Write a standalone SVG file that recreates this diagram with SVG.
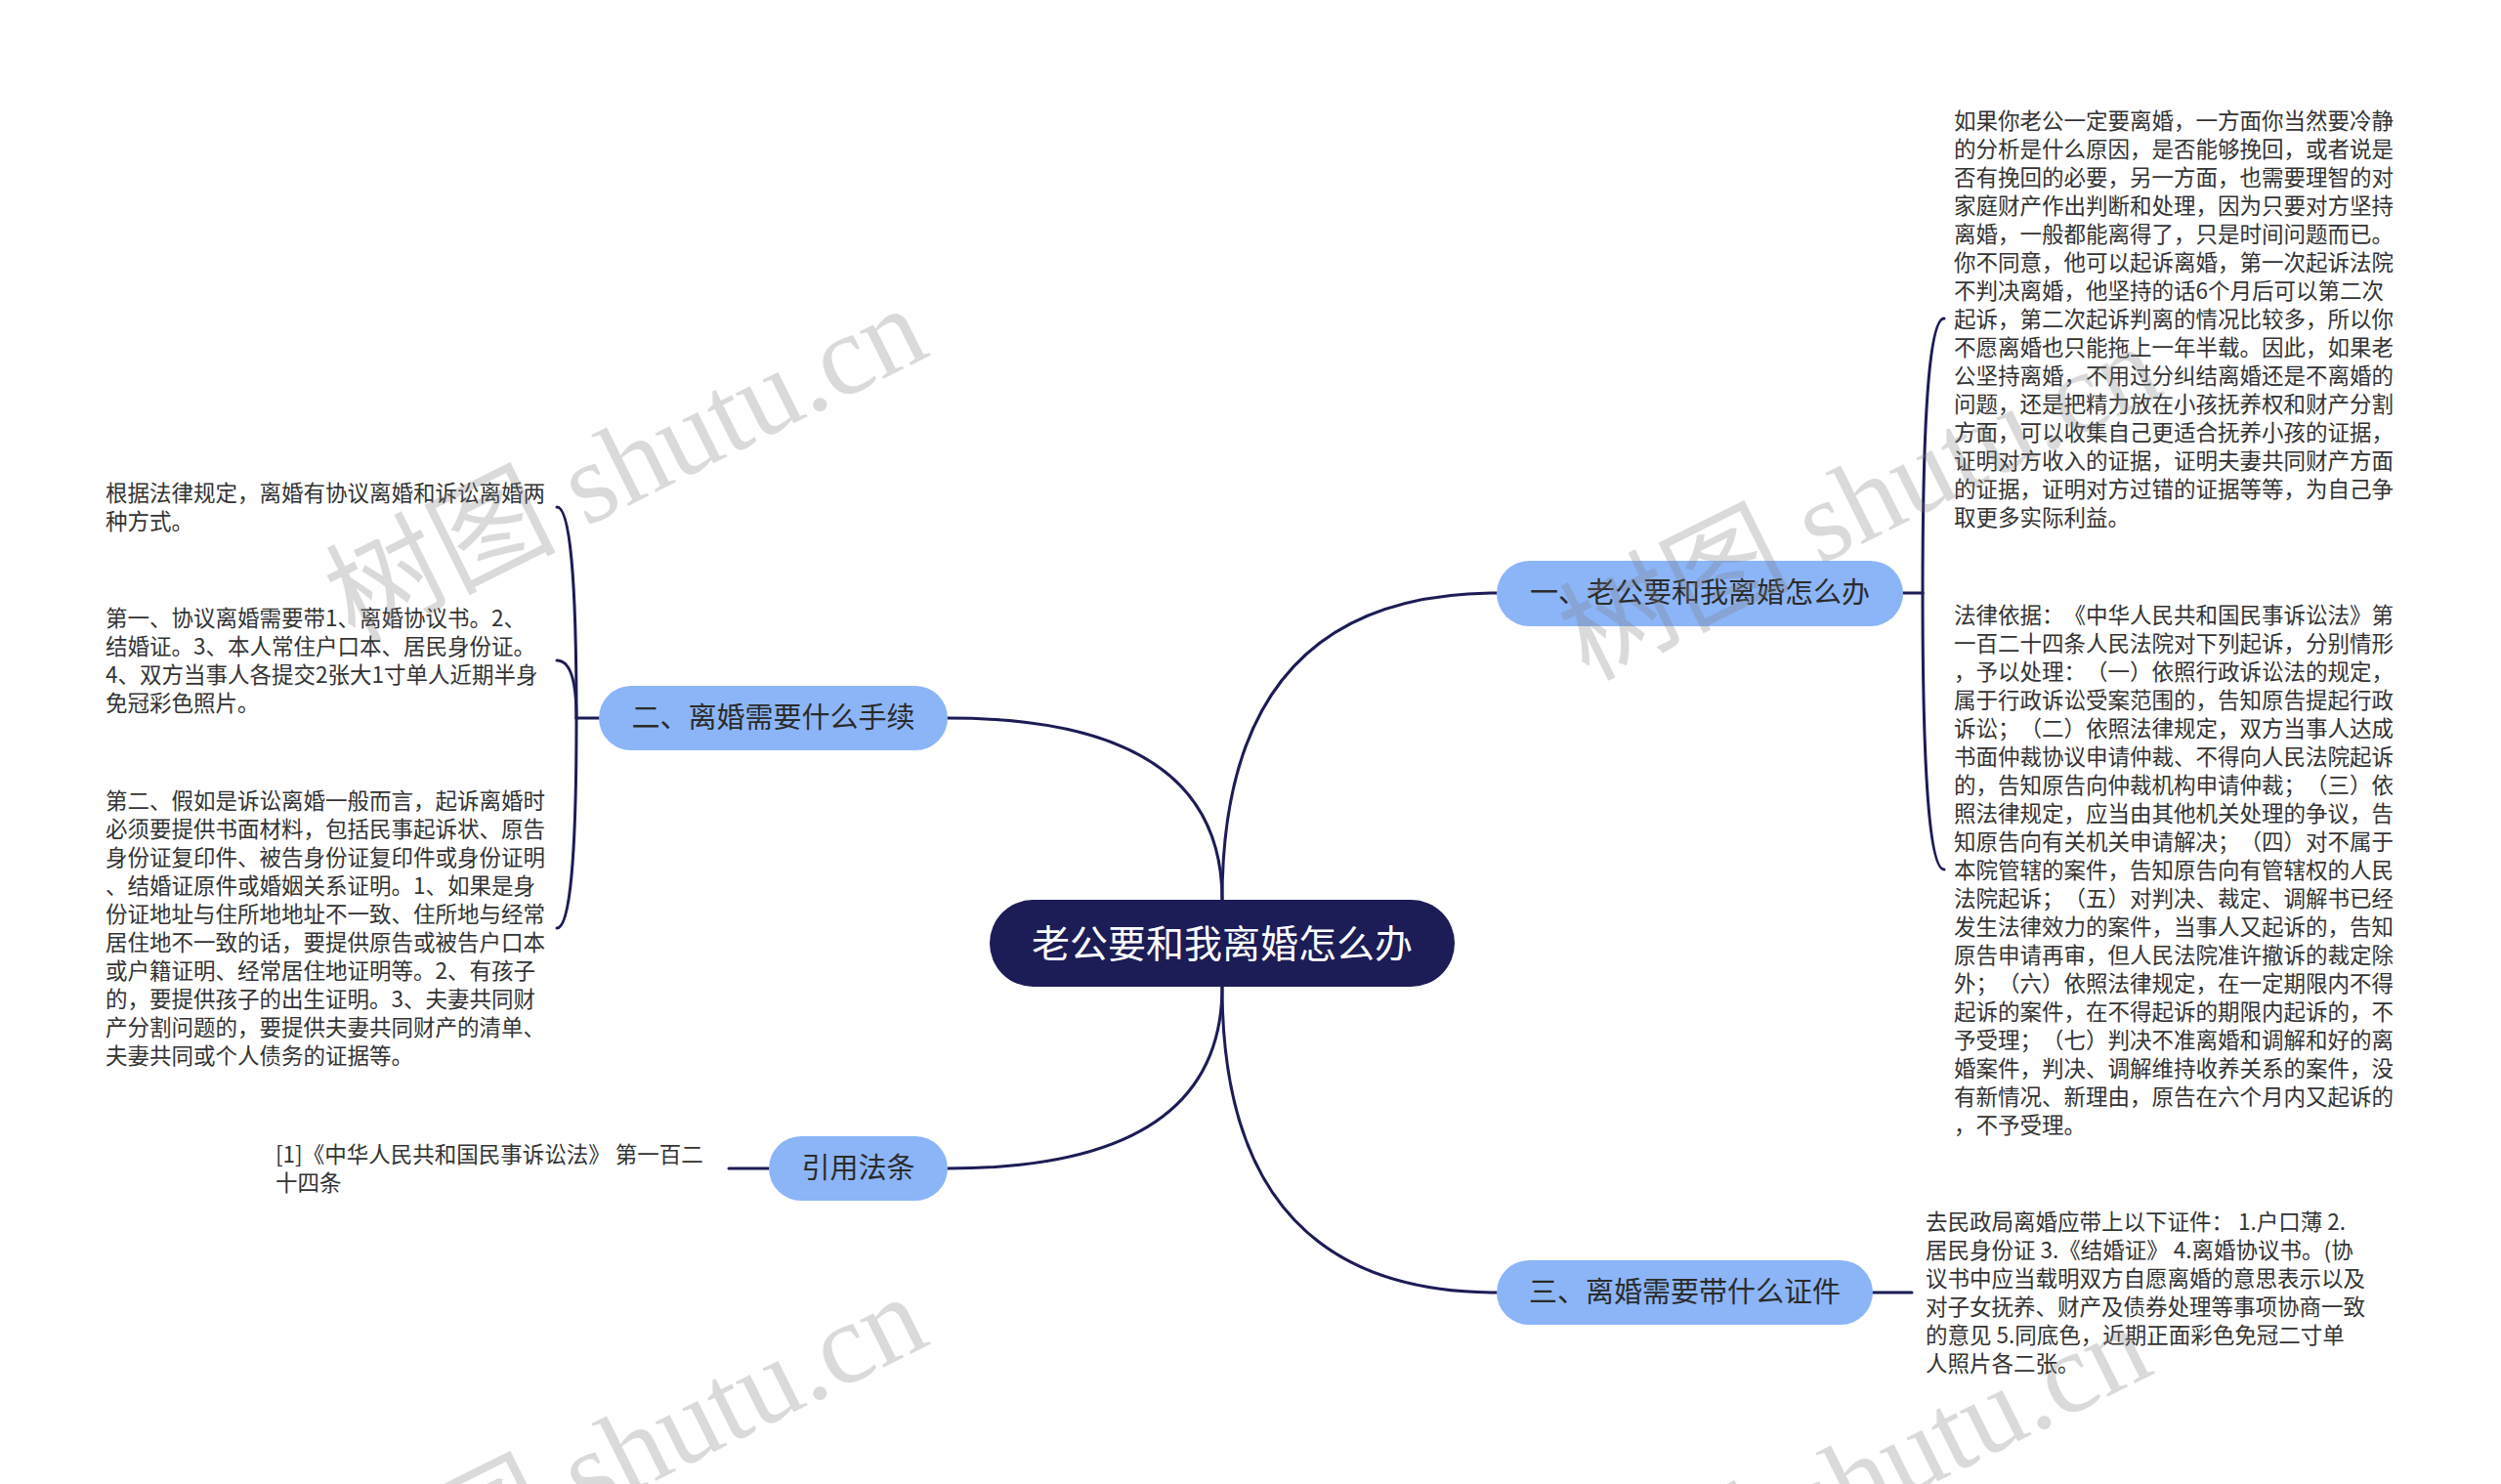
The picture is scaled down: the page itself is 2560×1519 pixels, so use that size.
<svg xmlns="http://www.w3.org/2000/svg" width="2560" height="1519" viewBox="0 0 2560 1519">
<defs>
<style>
.bg{fill:#ffffff}
.conn path{fill:none;stroke:#1c1c56;stroke-width:3;stroke-linecap:round}
.root rect{fill:#1c1c56}
.root text{fill:#ffffff;font-family:"Noto Sans CJK SC","Noto Sans",sans-serif;font-size:39px;text-anchor:middle}
.sub rect{fill:#8cb5f8}
.sub text{fill:#2b2b2b;font-family:"Noto Sans CJK SC","Noto Sans",sans-serif;font-size:29px;text-anchor:middle;text-spacing-trim:space-all}
.leaf text{fill:#333333;font-family:"Noto Sans CJK SC","Noto Sans",sans-serif;font-size:22.5px;text-spacing-trim:space-all;font-kerning:none}
.wm text{fill:#7a7a7a;fill-opacity:0.28;font-family:"Liberation Serif","Noto Sans CJK SC",serif;font-size:118px}
</style>
</defs>
<rect class="bg" x="0" y="0" width="2560" height="1519"/>

<g id="connectors" class="conn">
<path d="M1251 921 Q1251 607 1532 607"/>
<path d="M1251 921 Q1251 735 970 735"/>
<path d="M1251 1010 Q1251 1196 970 1196"/>
<path d="M1251 1010 Q1251 1323 1532 1323"/>
<path d="M1948 607 L1968 607"/>
<path d="M1968 607 Q1968 326 1990 326"/>
<path d="M1968 607 Q1968 890 1990 890"/>
<path d="M613 735 L590 735"/>
<path d="M590 735 Q590 519 570 519"/>
<path d="M590 735 Q590 676 570 676"/>
<path d="M590 735 Q590 950 570 950"/>
<path d="M787 1196 L746 1196"/>
<path d="M1917 1323 L1957 1323"/>
</g>

<g id="root" class="root">
<rect x="1013" y="921" width="476" height="89" rx="44.5"/>
<text x="1251" y="980">老公要和我离婚怎么办</text>
</g>

<g id="node1" class="sub">
<rect x="1532" y="574" width="416" height="67" rx="33.5"/>
<text x="1740" y="617">一、老公要和我离婚怎么办</text>
</g>

<g id="node2" class="sub">
<rect x="613" y="702" width="357" height="66" rx="33"/>
<text x="791.5" y="745">二、离婚需要什么手续</text>
</g>

<g id="node-cite" class="sub">
<rect x="787" y="1163" width="183" height="66" rx="33"/>
<text x="878.5" y="1206">引用法条</text>
</g>

<g id="node3" class="sub">
<rect x="1532" y="1290" width="385" height="66" rx="33"/>
<text x="1724.5" y="1333">三、离婚需要带什么证件</text>
</g>

<g id="leaf1a" class="leaf">
<text x="2000" y="131.5">
<tspan x="2000">如果你老公一定要离婚，一方面你当然要冷静</tspan>
<tspan x="2000" dy="29">的分析是什么原因，是否能够挽回，或者说是</tspan>
<tspan x="2000" dy="29">否有挽回的必要，另一方面，也需要理智的对</tspan>
<tspan x="2000" dy="29">家庭财产作出判断和处理，因为只要对方坚持</tspan>
<tspan x="2000" dy="29">离婚，一般都能离得了，只是时间问题而已。</tspan>
<tspan x="2000" dy="29">你不同意，他可以起诉离婚，第一次起诉法院</tspan>
<tspan x="2000" dy="29">不判决离婚，他坚持的话6个月后可以第二次</tspan>
<tspan x="2000" dy="29">起诉，第二次起诉判离的情况比较多，所以你</tspan>
<tspan x="2000" dy="29">不愿离婚也只能拖上一年半载。因此，如果老</tspan>
<tspan x="2000" dy="29">公坚持离婚，不用过分纠结离婚还是不离婚的</tspan>
<tspan x="2000" dy="29">问题，还是把精力放在小孩抚养权和财产分割</tspan>
<tspan x="2000" dy="29">方面，可以收集自己更适合抚养小孩的证据，</tspan>
<tspan x="2000" dy="29">证明对方收入的证据，证明夫妻共同财产方面</tspan>
<tspan x="2000" dy="29">的证据，证明对方过错的证据等等，为自己争</tspan>
<tspan x="2000" dy="29">取更多实际利益。</tspan>
</text>
</g>

<g id="leaf1b" class="leaf">
<text x="2000" y="637.5">
<tspan x="2000">法律依据：《中华人民共和国民事诉讼法》第</tspan>
<tspan x="2000" dy="29">一百二十四条人民法院对下列起诉，分别情形</tspan>
<tspan x="2000" dy="29">，予以处理：（一）依照行政诉讼法的规定，</tspan>
<tspan x="2000" dy="29">属于行政诉讼受案范围的，告知原告提起行政</tspan>
<tspan x="2000" dy="29">诉讼；（二）依照法律规定，双方当事人达成</tspan>
<tspan x="2000" dy="29">书面仲裁协议申请仲裁、不得向人民法院起诉</tspan>
<tspan x="2000" dy="29">的，告知原告向仲裁机构申请仲裁；（三）依</tspan>
<tspan x="2000" dy="29">照法律规定，应当由其他机关处理的争议，告</tspan>
<tspan x="2000" dy="29">知原告向有关机关申请解决；（四）对不属于</tspan>
<tspan x="2000" dy="29">本院管辖的案件，告知原告向有管辖权的人民</tspan>
<tspan x="2000" dy="29">法院起诉；（五）对判决、裁定、调解书已经</tspan>
<tspan x="2000" dy="29">发生法律效力的案件，当事人又起诉的，告知</tspan>
<tspan x="2000" dy="29">原告申请再审，但人民法院准许撤诉的裁定除</tspan>
<tspan x="2000" dy="29">外；（六）依照法律规定，在一定期限内不得</tspan>
<tspan x="2000" dy="29">起诉的案件，在不得起诉的期限内起诉的，不</tspan>
<tspan x="2000" dy="29">予受理；（七）判决不准离婚和调解和好的离</tspan>
<tspan x="2000" dy="29">婚案件，判决、调解维持收养关系的案件，没</tspan>
<tspan x="2000" dy="29">有新情况、新理由，原告在六个月内又起诉的</tspan>
<tspan x="2000" dy="29">，不予受理。</tspan>
</text>
</g>

<g id="leaf3" class="leaf">
<text x="1971" y="1259">
<tspan x="1971">去民政局离婚应带上以下证件： 1.户口薄 2.</tspan>
<tspan x="1971" dy="29">居民身份证 3.《结婚证》 4.离婚协议书。(协</tspan>
<tspan x="1971" dy="29">议书中应当载明双方自愿离婚的意思表示以及</tspan>
<tspan x="1971" dy="29">对子女抚养、财产及债券处理等事项协商一致</tspan>
<tspan x="1971" dy="29">的意见 5.同底色，近期正面彩色免冠二寸单</tspan>
<tspan x="1971" dy="29">人照片各二张。</tspan>
</text>
</g>

<g id="leaf2a" class="leaf">
<text x="108" y="513">
<tspan x="108">根据法律规定，离婚有协议离婚和诉讼离婚两</tspan>
<tspan x="108" dy="29">种方式。</tspan>
</text>
</g>

<g id="leaf2b" class="leaf">
<text x="108" y="640.5">
<tspan x="108">第一、协议离婚需要带1、离婚协议书。2、</tspan>
<tspan x="108" dy="29">结婚证。3、本人常住户口本、居民身份证。</tspan>
<tspan x="108" dy="29">4、双方当事人各提交2张大1寸单人近期半身</tspan>
<tspan x="108" dy="29">免冠彩色照片。</tspan>
</text>
</g>

<g id="leaf2c" class="leaf">
<text x="108" y="828">
<tspan x="108">第二、假如是诉讼离婚一般而言，起诉离婚时</tspan>
<tspan x="108" dy="29">必须要提供书面材料，包括民事起诉状、原告</tspan>
<tspan x="108" dy="29">身份证复印件、被告身份证复印件或身份证明</tspan>
<tspan x="108" dy="29">、结婚证原件或婚姻关系证明。1、如果是身</tspan>
<tspan x="108" dy="29">份证地址与住所地地址不一致、住所地与经常</tspan>
<tspan x="108" dy="29">居住地不一致的话，要提供原告或被告户口本</tspan>
<tspan x="108" dy="29">或户籍证明、经常居住地证明等。2、有孩子</tspan>
<tspan x="108" dy="29">的，要提供孩子的出生证明。3、夫妻共同财</tspan>
<tspan x="108" dy="29">产分割问题的，要提供夫妻共同财产的清单、</tspan>
<tspan x="108" dy="29">夫妻共同或个人债务的证据等。</tspan>
</text>
</g>

<g id="leaf-cite" class="leaf">
<text x="282" y="1190">
<tspan x="282">[1]《中华人民共和国民事诉讼法》 第一百二</tspan>
<tspan x="282" dy="29">十四条</tspan>
</text>
</g>

<g id="watermarks" class="wm">
<text transform="translate(362 658) rotate(-26.5)">树图 shutu.cn</text>
<text transform="translate(1625 697) rotate(-26.5)">树图 shutu.cn</text>
<text transform="translate(362 1670) rotate(-26.5)">树图 shutu.cn</text>
<text transform="translate(1615 1700) rotate(-26.5)">树图 shutu.cn</text>
</g>
</svg>
